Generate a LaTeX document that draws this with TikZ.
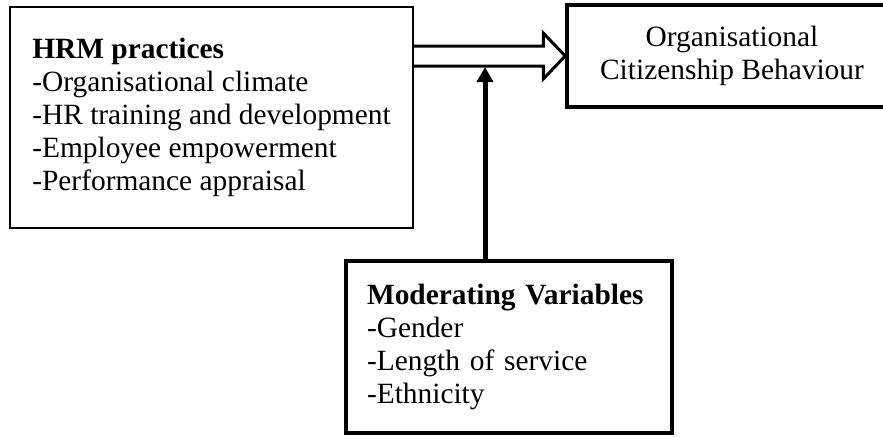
\documentclass[tikz,border=0pt]{standalone}
\usepackage{fontspec}
\setmainfont{Liberation Serif}
\usetikzlibrary{positioning,arrows.meta,calc}
\tikzset{
    block/.style={
        rectangle, draw, line width=1.75pt,
        inner xsep=10.5pt, inner ysep=0pt,
        font=\fontsize{14.7pt}{16.5pt}\selectfont
    },
    listbox/.style={
        block, align=left
    },
    hollow/.style={
        draw, line width=1.5pt, line join=miter
    }
}

\begin{document}
\begin{tikzpicture}[x=0.5pt, y=-0.5pt, >={Triangle[length=7.5pt, width=8pt]}]

        \clip (0,0) rectangle (883,436);

        % HRM practices
        \node[listbox, line width=1pt,
            minimum width=201.5pt, minimum height=110.5pt] (hrm) at (211.5,117.5)
            {\textbf{HRM practices}\\-Organisational climate\\-HR training and development\\-Employee empowerment\\-Performance appraisal};

        % Outcome
        \node[block, align=center, minimum width=165pt, minimum height=51pt] (ocb) at (732,56)
            {Organisational\\Citizenship Behaviour};

        % Moderators
        \node[listbox, text width=142pt,
            minimum width=163pt, minimum height=86pt] (mod) at (509,347)
            {\textbf{Moderating Variables}\\-Gender\\-Length of service\\-Ethnicity};

        % Hollow arrow to outcome
        \coordinate (tail) at (hrm.east |- ocb.west);
        \draw[hollow] ($(tail)+(0,-10)$) -- ($(ocb.west)+(-22,-10)$)
            -- ($(ocb.west)+(-22,-23)$) -- (ocb.west)
            -- ($(ocb.west)+(-22,23)$) -- ($(ocb.west)+(-22,10)$)
            -- ($(tail)+(0,10)$);

        % Arrow from moderators
        \coordinate (hit) at ($(tail)+(71,11)$);
        \draw[->, line width=2.5pt] (hit |- mod.north) -- (hit);

    \end{tikzpicture}
\end{document}
